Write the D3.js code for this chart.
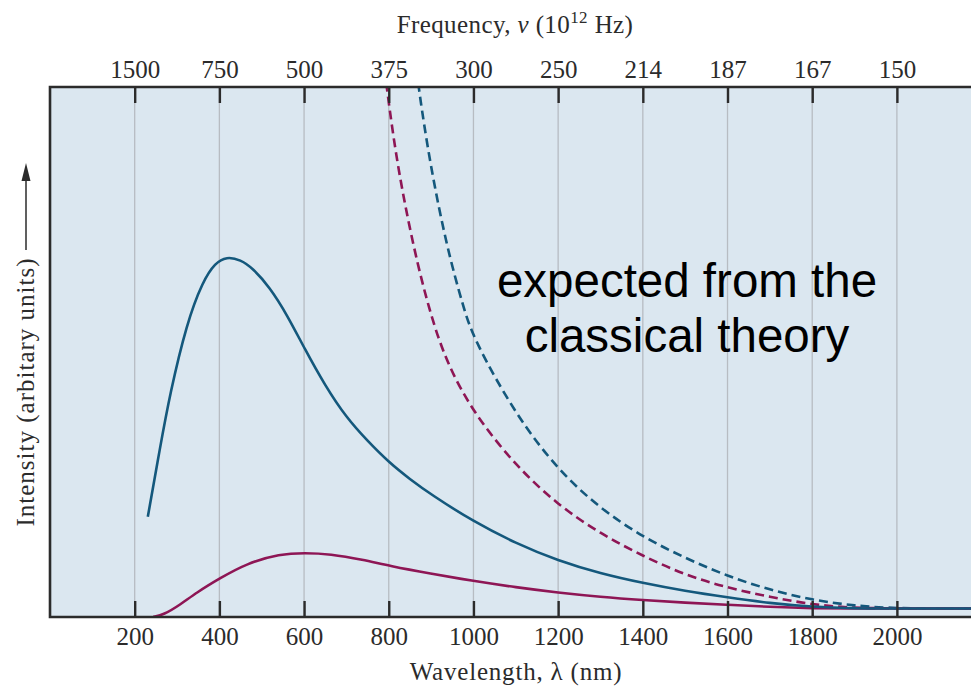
<!DOCTYPE html>
<html>
<head>
<meta charset="utf-8">
<script src="https://cdn.jsdelivr.net/npm/d3@7"></script>
<style>
  body { margin: 0; background: #fff; }
  .serif { font-family: "Liberation Serif", "DejaVu Serif", serif; fill: #2b2b2b; }
</style>
</head>
<body>
<div id="chart"></div>
<script>
// wavelength ticks (nm) and the matching frequency labels (10^12 Hz)
var wavelengthTicks = [200, 400, 600, 800, 1000, 1200, 1400, 1600, 1800, 2000];
var freqLabels = ["1500", "750", "500", "375", "300", "250", "214", "187", "167", "150"];

var hotMeasured = [
  [231, 18.9], [260, 32.0], [283, 42.0], [323, 55.5], [361, 63.4], [390, 66.8],
  [417, 68.0], [450, 67.4], [479, 65.8], [519, 62.2], [560, 57.0], [602, 50.5],
  [650, 43.6], [700, 37.6], [750, 33.2], [800, 29.2], [850, 26.0], [900, 23.1],
  [1000, 18.0], [1100, 13.9], [1200, 10.6], [1300, 8.2], [1400, 6.4], [1500, 4.9],
  [1600, 3.7], [1700, 2.6], [1800, 1.9], [1900, 1.6], [2000, 1.6], [2175, 1.6]
];
var coolMeasured = [
  [244, 0.05], [268, 0.4], [307, 2.3], [346, 4.6], [401, 7.3], [464, 10.1],
  [543, 11.9], [602, 12.1], [661, 11.9], [739, 10.8], [803, 9.6], [897, 8.2],
  [1000, 6.8], [1100, 5.6], [1200, 4.6], [1300, 3.8], [1400, 3.2], [1500, 2.7],
  [1600, 2.3], [1700, 1.9], [1800, 1.65], [1900, 1.6], [2000, 1.6], [2175, 1.6]
];
// classical (Rayleigh-Jeans) predictions, dashed
var hotClassical = [
  [862, 106], [870, 100], [897, 85.7], [937, 69.8], [976, 58.5], [1000, 52.5],
  [1100, 38.1], [1200, 27.7], [1300, 20.4], [1400, 15.1], [1500, 11.1], [1600, 7.7],
  [1700, 5.1], [1800, 3.2], [1900, 2.1], [2000, 1.6], [2175, 1.6]
];
var coolClassical = [
  [786, 106], [795, 100], [819, 85.7], [858, 69.8], [897, 57.4], [937, 47.9],
  [1000, 38.5], [1100, 28.5], [1200, 21.1], [1300, 15.7], [1400, 11.5], [1500, 7.9],
  [1600, 5.5], [1700, 3.8], [1800, 2.3], [1900, 1.7], [2000, 1.6], [2175, 1.6]
];

var annotation = ["expected from the", "classical theory"];

var W = 971, H = 687
  , m = {top: 87, left: 50, bottom: 70}
  , blue = "#14587c"
  , purple = "#8e1655";

var svg = d3.select("#chart").append("svg")
  .attr("width", W)
  .attr("height", H);

var x = d3.scaleLinear().domain([0, 2175]).range([m.left, W]);
var y = d3.scaleLinear().domain([0, 100]).range([H - m.bottom, m.top]);

// plot background
svg.append("rect")
  .attr("x", m.left).attr("y", m.top)
  .attr("width", W - m.left).attr("height", y(0) - m.top)
  .attr("fill", "#dbe7f0");

svg.append("clipPath").attr("id", "plotclip")
  .append("rect")
  .attr("x", m.left).attr("y", m.top)
  .attr("width", W - m.left).attr("height", y(0) - m.top);

// vertical grid lines
svg.append("g").selectAll("line")
  .data(wavelengthTicks)
  .join("line")
  .attr("x1", function(d) { return x(d); })
  .attr("x2", function(d) { return x(d); })
  .attr("y1", m.top).attr("y2", y(0))
  .attr("stroke", "#b7bcc2")
  .attr("stroke-width", 1.3);

// curves
var line = d3.line()
  .x(function(d) { return x(d[0]); })
  .y(function(d) { return y(d[1]); })
  .curve(d3.curveBasis);

var curves = svg.append("g").attr("clip-path", "url(#plotclip)");
[[coolClassical, purple, true], [hotClassical, blue, true],
 [coolMeasured, purple, false], [hotMeasured, blue, false]].forEach(function(c) {
  curves.append("path")
    .datum(c[0])
    .attr("d", line)
    .attr("fill", "none")
    .attr("stroke", c[1])
    .attr("stroke-width", 2.6)
    .attr("stroke-dasharray", c[2] ? "9,5" : null);
});

// axes, ticks pointing inward
var bottomAxis = d3.axisBottom(x)
  .tickValues(wavelengthTicks)
  .tickFormat(d3.format("d"))
  .tickSize(-16);
var topAxis = d3.axisTop(x)
  .tickValues(wavelengthTicks)
  .tickFormat(function(d, i) { return freqLabels[i]; })
  .tickSize(-16);

var gb = svg.append("g").attr("transform", "translate(0," + y(0) + ")").call(bottomAxis);
var gt = svg.append("g").attr("transform", "translate(0," + m.top + ")").call(topAxis);

[gb, gt].forEach(function(g) {
  g.select(".domain").remove();
  g.selectAll(".tick line").attr("stroke", "#2b2b2b").attr("stroke-width", 2.4);
  g.selectAll(".tick text")
    .attr("class", "serif")
    .style("font-size", "25px");
});
gb.selectAll(".tick text").attr("y", 28).attr("dy", null);
gt.selectAll(".tick text").attr("y", -9).attr("dy", null);

// frame: left, top, bottom (right side runs off the page)
svg.append("path")
  .attr("d", "M" + W + "," + m.top + "H" + m.left + "V" + y(0) + "H" + W)
  .attr("fill", "none")
  .attr("stroke", "#2b2b2b")
  .attr("stroke-width", 2.6);

// axis titles
var topTitle = svg.append("text")
  .attr("class", "serif")
  .attr("x", 515).attr("y", 33)
  .attr("text-anchor", "middle")
  .style("font-size", "25px")
  .style("letter-spacing", "0.4px");
topTitle.append("tspan").text("Frequency, ");
topTitle.append("tspan").style("font-style", "italic").text("ν");
topTitle.append("tspan").text(" (10");
topTitle.append("tspan").attr("dy", -10).style("font-size", "17px").text("12");
topTitle.append("tspan").attr("dy", 10).text(" Hz)");

svg.append("text")
  .attr("class", "serif")
  .attr("x", 516).attr("y", 680)
  .attr("text-anchor", "middle")
  .style("font-size", "25px")
  .style("letter-spacing", "0.8px")
  .text("Wavelength, λ (nm)");

svg.append("text")
  .attr("class", "serif")
  .attr("transform", "translate(34,392) rotate(-90)")
  .attr("text-anchor", "middle")
  .style("font-size", "25px")
  .style("letter-spacing", "1px")
  .text("Intensity (arbitary units)");

// arrow beside the y title
svg.append("line")
  .attr("x1", 26).attr("x2", 26)
  .attr("y1", 250).attr("y2", 178)
  .attr("stroke", "#2b2b2b").attr("stroke-width", 1.5);
svg.append("path")
  .attr("d", "M26,163 L21.5,181 L30.5,181 Z")
  .attr("fill", "#2b2b2b");

// annotation
svg.append("g").selectAll("text")
  .data(annotation)
  .join("text")
  .attr("x", 687)
  .attr("y", function(d, i) { return 297 + i * 55; })
  .attr("text-anchor", "middle")
  .style("font-family", "'Liberation Sans', Arial, sans-serif")
  .style("font-size", "47.5px")
  .attr("fill", "#000")
  .text(function(d) { return d; });
</script>
</body>
</html>
